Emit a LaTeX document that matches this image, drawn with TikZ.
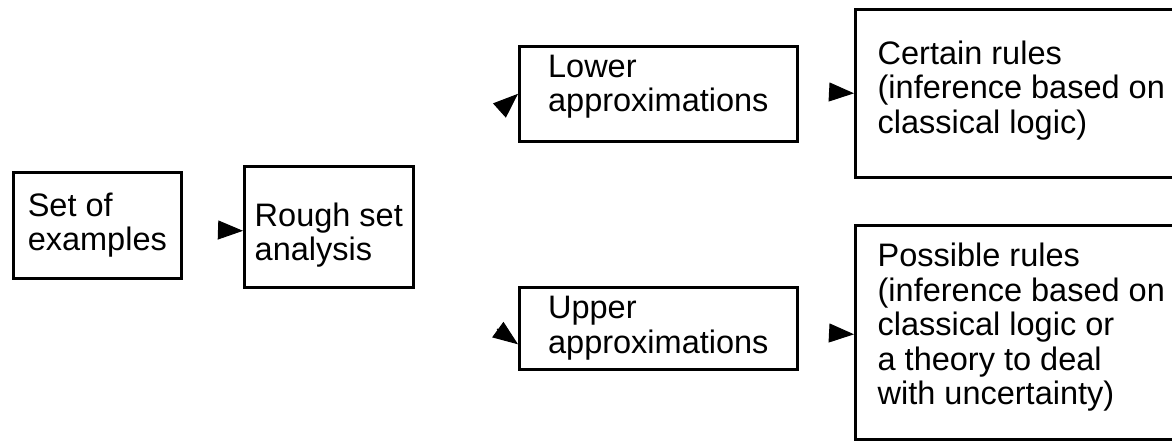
\documentclass[tikz,border=0pt]{standalone}
\usepackage{fontspec}
\setmainfont{Liberation Sans}
\usetikzlibrary{arrows.meta,positioning,calc}
\tikzset{
  >={Triangle[length=25pt,width=19pt]},
  block/.style={draw,line width=2.6pt,align=left,inner sep=0pt,anchor=north west,
    font=\fontsize{32.5}{34.5}\selectfont},
  arrow/.style={->,line width=1pt},
}

\begin{document}
\begin{tikzpicture}[x=1pt,y=-1pt]
  \useasboundingbox (0,0) rectangle (1172,440);
  \clip (0,0) rectangle (1172,440);
  \node[block,minimum width=168pt,minimum height=106pt] (examples) at (12,171) {Set of\\examples};
  \node[block,minimum width=169pt,minimum height=121pt] (rough) at (243,165)
    {\rule{0pt}{40pt}Rough set\\analysis};
  \node[block,minimum width=278pt,minimum height=95pt] (lower) at (518,45)
    {Lower\\approximations\rule[-21pt]{0pt}{21pt}};
  \node[block,minimum width=278pt,minimum height=82pt] (upper) at (518,286) {Upper\\approximations};
  \node[block,minimum width=332pt,minimum height=168pt] (certain) at (854,8)
    {Certain rules\\(inference based on\\classical logic)\rule[-13pt]{0pt}{13pt}};
  \node[block,minimum width=332pt,minimum height=214pt] (possible) at (854,224)
    {Possible rules\\(inference based on\\classical logic or\\a theory to deal\\with uncertainty)\rule[-17pt]{0pt}{17pt}};
  % only the arrow heads are left of the links
  \coordinate (a1) at (218,230);
  \coordinate (a2) at (500,110);
  \coordinate (a3) at (497,329);
  \coordinate (a4) at (829,92);
  \coordinate (a5) at (829,333);
  \draw[arrow] (a1) -- ([yshift=-4pt]rough.west);
  \draw[arrow] (a2) -- (lower.west);
  \draw[arrow] (a3) -- ([yshift=-16pt]upper.west);
  \draw[arrow] (a4) -- (certain.west);
  \draw[arrow] (a5) -- ([yshift=-2pt]possible.west);
\end{tikzpicture}
\end{document}
